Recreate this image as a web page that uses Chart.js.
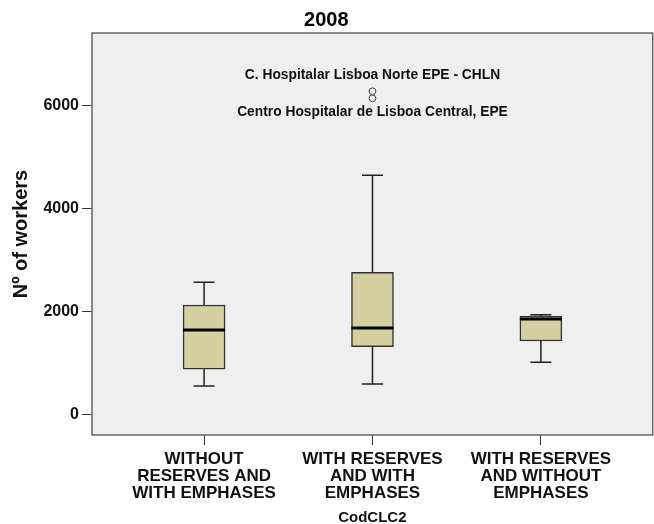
<!DOCTYPE html>
<html>
<head>
<meta charset="utf-8">
<script src="https://cdn.jsdelivr.net/npm/chart.js@4.4.1/dist/chart.umd.min.js"></script>
<style>
  html, body { margin: 0; padding: 0; background: #ffffff; }
  #wrap { width: 654px; height: 524px; position: relative; }
</style>
</head>
<body>
<div id="wrap"><canvas id="c" width="654" height="524"></canvas></div>
<script>
// ---- data ----
const chartTitle = '2008';
const xAxisTitle = 'CodCLC2';
const yAxisTitle = 'Nº of workers';
const categories = [
  'WITHOUT RESERVES AND WITH EMPHASES',
  'WITH RESERVES AND WITH EMPHASES',
  'WITH RESERVES AND WITHOUT EMPHASES'
];
const categoryLabelLines = [
  ['WITHOUT', 'RESERVES AND', 'WITH EMPHASES'],
  ['WITH RESERVES', 'AND WITH', 'EMPHASES'],
  ['WITH RESERVES', 'AND WITHOUT', 'EMPHASES']
];
const whiskerLow  = [561, 600, 1020];
const q1Values    = [884, 1322, 1432];
const medians     = [1645, 1684, 1858];
const q3Values    = [2129, 2762, 1916];
const whiskerHigh = [2568, 4645, 1942];
const outlierCategory = [2, 2];
const outlierValues   = [6271, 6135];
const outlierLabels   = ['C. Hospitalar Lisboa Norte EPE - CHLN', 'Centro Hospitalar de Lisboa Central, EPE'];
const yTickValues = [0, 2000, 4000, 6000];

const boxFill = '#d5d0a0';
const lineColor = '#222222';
const boxWidthPx = 42;
const capWidthPx = 21;

const boxPlotPlugin = {
  id: 'boxplotExtras',
  beforeDatasetsDraw(chart) {
    const { ctx, chartArea: a } = chart;
    ctx.save();
    ctx.fillStyle = '#efefef';
    ctx.fillRect(a.left, a.top, a.right - a.left, a.bottom - a.top);
    const xs = chart.scales.x, ys = chart.scales.y;
    ctx.strokeStyle = lineColor;
    ctx.lineWidth = 1.5;
    categories.forEach((c, i) => {
      const x = xs.getPixelForValue(i + 1);
      const yLo = ys.getPixelForValue(whiskerLow[i]);
      const yQ1 = ys.getPixelForValue(q1Values[i]);
      const yQ3 = ys.getPixelForValue(q3Values[i]);
      const yHi = ys.getPixelForValue(whiskerHigh[i]);
      ctx.beginPath();
      ctx.moveTo(x, yQ3); ctx.lineTo(x, yHi);
      ctx.moveTo(x - capWidthPx / 2, yHi); ctx.lineTo(x + capWidthPx / 2, yHi);
      ctx.moveTo(x, yQ1); ctx.lineTo(x, yLo);
      ctx.moveTo(x - capWidthPx / 2, yLo); ctx.lineTo(x + capWidthPx / 2, yLo);
      ctx.stroke();
    });
    ctx.restore();
  },
  afterDatasetsDraw(chart) {
    const { ctx, chartArea: a } = chart;
    const xs = chart.scales.x, ys = chart.scales.y;
    ctx.save();
    // medians
    ctx.strokeStyle = '#000000';
    ctx.lineWidth = 3;
    categories.forEach((c, i) => {
      const x = xs.getPixelForValue(i + 1);
      const y = ys.getPixelForValue(medians[i]);
      ctx.beginPath();
      ctx.moveTo(x - boxWidthPx / 2, y); ctx.lineTo(x + boxWidthPx / 2, y);
      ctx.stroke();
    });
    // outlier labels (condensed bold)
    ctx.fillStyle = '#111111';
    ctx.font = "bold 15px 'Liberation Sans', Arial, sans-serif";
    ctx.textAlign = 'center';
    ctx.textBaseline = 'middle';
    const squeeze = 0.92;
    outlierValues.forEach((v, i) => {
      const x = xs.getPixelForValue(outlierCategory[i]);
      const y = ys.getPixelForValue(v);
      const dy = i === 0 ? -16 : 14;
      ctx.save();
      ctx.translate(x, y + dy);
      ctx.scale(squeeze, 1);
      ctx.fillText(outlierLabels[i], 0, 0);
      ctx.restore();
    });
    // plot frame
    ctx.strokeStyle = '#666666';
    ctx.lineWidth = 1.5;
    ctx.strokeRect(a.left, a.top, a.right - a.left, a.bottom - a.top);
    ctx.restore();
  }
};

new Chart(document.getElementById('c'), {
  type: 'bar',
  data: {
    datasets: [
      {
        type: 'bar',
        label: 'IQR',
        data: categories.map((c, i) => ({ x: i + 1, y: [q1Values[i], q3Values[i]] })),
        backgroundColor: boxFill,
        borderColor: '#333333',
        borderWidth: 1.5,
        borderSkipped: false,
        barThickness: boxWidthPx
      },
      {
        type: 'scatter',
        label: 'Outliers',
        data: outlierValues.map((v, i) => ({ x: outlierCategory[i], y: v })),
        pointStyle: 'circle',
        pointRadius: 3.4,
        backgroundColor: 'rgba(0,0,0,0)',
        borderColor: '#444444',
        borderWidth: 1
      }
    ]
  },
  options: {
    responsive: false,
    animation: false,
    devicePixelRatio: 1,
    layout: { autoPadding: false, padding: { left: 0, right: 1.3, top: 0, bottom: 0 } },
    plugins: {
      legend: { display: false },
      tooltip: { enabled: false },
      title: {
        display: true,
        text: chartTitle,
        color: '#000',
        font: { family: "'Liberation Sans', Arial, sans-serif", size: 20, weight: 'bold', lineHeight: 1.2 },
        padding: { top: 8.3, bottom: 0.7 }
      }
    },
    scales: {
      x: {
        type: 'linear',
        min: 0.3345,
        max: 3.664,
        offset: false,
        afterBuildTicks(scale) { scale.ticks = categories.map((c, i) => ({ value: i + 1 })); },
        afterFit(scale) { scale.height = 89; },
        grid: { offset: false, drawOnChartArea: false, drawTicks: true, tickLength: 10, color: '#333', lineWidth: 1 },
        border: { display: false },
        ticks: {
          autoSkip: false,
          maxRotation: 0,
          padding: 6,
          color: '#111',
          font: { family: "'Liberation Sans', Arial, sans-serif", size: 17, weight: 'bold', lineHeight: 1.0 },
          callback: (v) => categoryLabelLines[Math.round(v) - 1]
        },
        title: {
          display: true,
          text: xAxisTitle,
          color: '#111',
          font: { family: "'Liberation Sans', Arial, sans-serif", size: 15, weight: 'bold', lineHeight: 1.0 },
          padding: { top: 0, bottom: -1 }
        }
      },
      y: {
        type: 'linear',
        min: -390,
        max: 7400,
        afterBuildTicks(scale) { scale.ticks = yTickValues.map(v => ({ value: v })); },
        afterFit(scale) { scale.width = 92; },
        grid: { drawOnChartArea: false, drawTicks: true, tickLength: 10, color: '#333', lineWidth: 1 },
        border: { display: false },
        ticks: {
          padding: 3,
          color: '#111',
          font: { family: "'Liberation Sans', Arial, sans-serif", size: 16, weight: 'bold' },
          callback: (v) => String(v)
        },
        title: {
          display: true,
          text: yAxisTitle,
          color: '#111',
          font: { family: "'Liberation Sans', Arial, sans-serif", size: 20, weight: 'bold', lineHeight: 1.2 },
          padding: { top: 9, bottom: 0 }
        }
      }
    }
  },
  plugins: [boxPlotPlugin]
});
</script>
</body>
</html>
